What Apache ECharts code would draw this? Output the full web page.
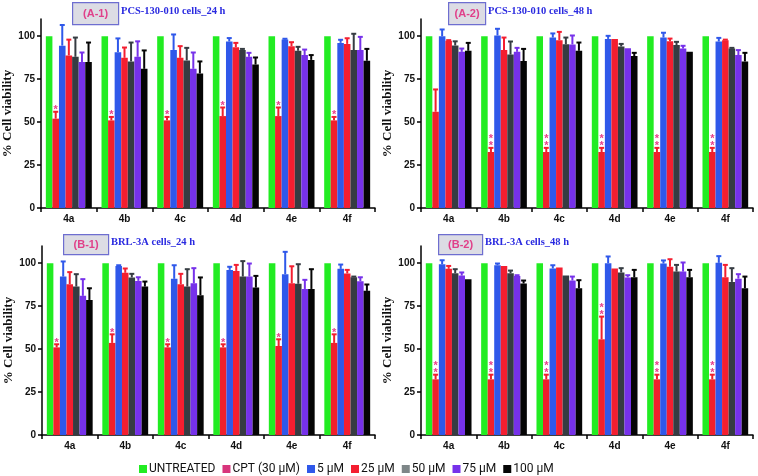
<!DOCTYPE html>
<html lang="en">
<head>
<meta charset="UTF-8">
<title>Cell viability</title>
<script src="https://cdn.jsdelivr.net/npm/echarts@6/dist/echarts.min.js"></script>
</head>
<body style="margin:0;background:#fff;">
<div id="main" style="width:758px;height:476px;"></div>
<script type="text/javascript">
var categories = ['4a', '4b', '4c', '4d', '4e', '4f'];
var seriesNames = ['UNTREATED', 'CPT (30 µM)', '5 µM', '25 µM', '50 µM', '75 µM', '100 µM'];
var yTicks = [0, 25, 50, 75, 100];
var panelTags = ['(A-1)', '(A-2)', '(B-1)', '(B-2)'];
var panelTitles = ['PCS-130-010 cells_24 h', 'PCS-130-010 cells_48 h', 'BRL-3A cells_24 h', 'BRL-3A cells_48 h'];

// mean values, one row per series (UNTREATED, CPT, 5, 25, 50, 75, 100 µM)
var a1Mean = [
    [100, 100, 100, 100, 100, 100],
    [52, 51, 51, 53.5, 53.5, 51],
    [94.5, 90.7, 92, 96.9, 98, 96.1],
    [88.8, 87.4, 87.4, 93.6, 94.2, 95.5],
    [88, 85.3, 85.9, 92, 91.5, 91.9],
    [85, 88, 81, 88, 89, 91.9],
    [85, 81, 78.3, 83.5, 86.2, 85.7]
];
var a1Err = [
    [0, 0, 0, 0, 0, 0],
    [4, 2, 2, 5, 5, 2],
    [12, 8, 9, 2, 0.5, 1.8],
    [9.2, 6, 6.8, 2.5, 2.3, 3.3],
    [11.2, 11, 7.3, 0.6, 2.3, 9.5],
    [5.5, 9, 9.5, 2.3, 3.2, 7.7],
    [11.3, 10.7, 7, 4.1, 2.8, 6.9]
];
var a2Mean = [
    [100, 100, 100, 100, 100, 100],
    [56, 32.6, 32.6, 32.6, 32.6, 32.6],
    [100, 100.4, 99.2, 98.4, 99.2, 96.9],
    [97.3, 91.9, 97.7, 98.4, 97.1, 97.7],
    [94.6, 89.3, 95.3, 94, 94.8, 92.8],
    [90.9, 90.9, 95.2, 93, 92.8, 89],
    [91.5, 85.5, 91.5, 88.4, 90.9, 85.3]
];
var a2Err = [
    [0, 0, 0, 0, 0, 0],
    [13, 2.4, 2.4, 2.4, 2.4, 2.4],
    [3.9, 3.9, 2.4, 1.8, 2.8, 2.1],
    [0.4, 7.3, 4.8, 0, 1.5, 0.3],
    [2.4, 7.6, 3.9, 1.5, 1.9, 0.4],
    [1.9, 2.3, 5.2, 0, 1.6, 2.9],
    [4.6, 7.1, 4.8, 1.9, 0, 5]
];
var b1Mean = [
    [100, 100, 100, 100, 100, 100],
    [51, 53.6, 51, 51, 51.8, 53.6],
    [92.2, 98.4, 90.9, 96.1, 93.6, 96.7],
    [87.8, 94.4, 87.8, 95.5, 88.3, 94],
    [86.4, 91.7, 86.4, 92.2, 88, 91.8],
    [81, 89.7, 88.3, 92.2, 85, 89.5],
    [78.6, 86.4, 81.4, 85.8, 85, 83.9]
];
var b1Err = [
    [0, 0, 0, 0, 0, 0],
    [1.8, 5, 1.8, 1.8, 3.9, 5],
    [8.8, 0.4, 7.9, 1.8, 13, 2.5],
    [7, 2.5, 6, 3.5, 9.9, 2.1],
    [7.2, 2.1, 10.1, 9, 11.4, 0.4],
    [9.7, 2.1, 8.8, 7.6, 5.3, 2.3],
    [6.8, 2.9, 10.3, 6.8, 11.5, 3.7]
];
var b2Mean = [
    [100, 100, 100, 100, 100, 100],
    [32.4, 32.4, 32.4, 55.7, 32.4, 32.4],
    [99.4, 98.8, 96.9, 100, 99.8, 100.2],
    [96.7, 98.4, 97.5, 96.9, 97.9, 91.8],
    [94.2, 94.2, 92.8, 94.6, 95.1, 89.1],
    [92.8, 92.6, 89.9, 91.7, 95.1, 91],
    [90.7, 88.2, 85.4, 91.8, 91.8, 85.4]
];
var b2Err = [
    [0, 0, 0, 0, 0, 0],
    [2.7, 2.7, 2.7, 13.2, 2.7, 2.7],
    [2.3, 1, 1.9, 3.9, 1.8, 3.9],
    [1.7, 0, 0, 0, 4.4, 7.2],
    [2.3, 1.5, 0, 2.5, 3.9, 8],
    [1.8, 0.4, 2.3, 1.3, 5.3, 2.6],
    [0, 1.7, 4.7, 4.3, 4.3, 6.8]
];
// number of significance stars above the CPT bar
var a1Stars = [1, 1, 1, 1, 1, 1];
var a2Stars = [0, 2, 2, 2, 2, 2];
var b1Stars = [1, 1, 1, 1, 1, 1];
var b2Stars = [2, 2, 2, 2, 2, 2];

var panelMeans = [a1Mean, a2Mean, b1Mean, b2Mean];
var panelErrs = [a1Err, a2Err, b1Err, b2Err];
var panelStars = [a1Stars, a2Stars, b1Stars, b2Stars];

var barColors = ['#22ec22', '#f0202c', '#2f58ea', '#f41e30', '#363c42', '#7631ea', '#050505'];
var legendColors = ['#22ec22', '#d8357c', '#2f58ea', '#f41e30', '#7e8688', '#7631ea', '#050505'];
var starColor = '#e8408a';
var BAR_FRAC = 0.118;

// grid boxes
var grids = [
    {left: 41, top: 19, width: 334, height: 189},
    {left: 421, top: 19, width: 332, height: 189},
    {left: 42, top: 246, width: 333, height: 189},
    {left: 421, top: 246, width: 332, height: 189}
];
var tagBoxes = [[72, 2, 46, 22], [448, 2, 37, 22], [63, 234, 45, 20], [438, 234, 44, 20]];

var myChart = echarts.init(document.getElementById('main'));

function errRender(params, api) {
    var cat = api.value(0), si = api.value(1), v = api.value(2), e = api.value(3), st = api.value(4);
    var band = api.size([1, 0])[0];
    var bw = band * BAR_FRAC;
    var base = api.coord([cat, v]);
    var x = base[0] + (si - 3) * bw;
    var y0 = base[1];
    var y1 = api.coord([cat, v + e])[1];
    var col = barColors[si];
    var children = [];
    if (e > 0) {
        children.push({type: 'line', shape: {x1: x, y1: y0, x2: x, y2: y1}, style: {stroke: col, lineWidth: 2}});
        children.push({type: 'line', shape: {x1: x - 2.5, y1: y1, x2: x + 2.5, y2: y1}, style: {stroke: col, lineWidth: 2}});
    }
    // stars sit just above the error bar
    for (var k = 0; k < st; k++) {
        children.push({
            type: 'text',
            style: {
                text: '*', x: x, y: y1 + 4 - k * 7, fill: starColor,
                font: 'bold 11px "Liberation Sans", Arial',
                align: 'center', verticalAlign: 'bottom'
            }
        });
    }
    return {type: 'group', children: children};
}

var xAxes = [], yAxes = [], series = [], graphics = [];
for (var p = 0; p < 4; p++) {
    xAxes.push({
        type: 'category', gridIndex: p, data: categories,
        axisLine: {lineStyle: {color: '#000', width: 1.5}},
        axisTick: {show: true, length: 4, lineStyle: {color: '#000', width: 1.5}},
        axisLabel: {color: '#111', fontWeight: 'bold', fontSize: 10, margin: 6, fontFamily: '"Liberation Sans", Arial'}
    });
    yAxes.push({
        type: 'value', gridIndex: p, min: 0, max: 110, interval: 25,
        name: '% Cell viability', nameLocation: 'middle', nameGap: 18, nameRotate: 90,
        nameTextStyle: {fontFamily: '"Liberation Serif", "Times New Roman", serif', fontWeight: 'bold', fontSize: 13, color: '#111'},
        axisLine: {show: true, lineStyle: {color: '#000', width: 1.5}},
        axisTick: {show: true, length: 4, customValues: yTicks, lineStyle: {color: '#000', width: 1.5}},
        axisLabel: {customValues: yTicks, color: '#111', fontWeight: 'bold', fontSize: 10, margin: 6, fontFamily: '"Liberation Sans", Arial'},
        splitLine: {show: false}
    });
    var errData = [];
    for (var s = 0; s < seriesNames.length; s++) {
        series.push({
            name: seriesNames[s], type: 'bar', xAxisIndex: p, yAxisIndex: p,
            data: panelMeans[p][s], barWidth: (BAR_FRAC * 100) + '%', barGap: '0%',
            itemStyle: {color: barColors[s]}
        });
        for (var c = 0; c < categories.length; c++) {
            errData.push([c, s, panelMeans[p][s][c], panelErrs[p][s][c], s === 1 ? panelStars[p][c] : 0]);
        }
    }
    series.push({
        type: 'custom', xAxisIndex: p, yAxisIndex: p, renderItem: errRender,
        data: errData, encode: {x: 0, y: 2}, z: 5, silent: true
    });
    var tb = tagBoxes[p];
    graphics.push({
        type: 'group', left: tb[0], top: tb[1],
        children: [
            {type: 'rect', shape: {x: 0, y: 0, width: tb[2], height: tb[3]},
             style: {fill: '#dcdce4', stroke: '#6e6ed0', lineWidth: 1.2}},
            {type: 'text', x: tb[2] / 2, y: tb[3] / 2,
             style: {text: panelTags[p], fill: '#e0408a', font: 'bold 11px "Liberation Sans", Arial', align: 'center', verticalAlign: 'middle'}}
        ]
    });
    graphics.push({
        type: 'text', left: tb[0] + tb[2] + 3, top: tb[1] + tb[3] / 2 - 7,
        style: {text: panelTitles[p], fill: '#2a2ae0', font: 'bold 10.5px "Liberation Serif", "Times New Roman", serif'}
    });
}

var legendData = [];
for (var i = 0; i < seriesNames.length; i++) {
    legendData.push({name: seriesNames[i], itemStyle: {color: legendColors[i]}});
}

myChart.setOption({
    animation: false,
    backgroundColor: '#fff',
    grid: grids,
    xAxis: xAxes,
    yAxis: yAxes,
    legend: {
        data: legendData, left: 134, top: 458, icon: 'rect',
        itemWidth: 8, itemHeight: 8, itemGap: 7,
        textStyle: {fontSize: 12, color: '#111', fontFamily: 'Roboto, "Liberation Sans", Arial', padding: [0, 0, 0, -3]}
    },
    graphic: graphics,
    series: series
});
</script>
</body>
</html>
